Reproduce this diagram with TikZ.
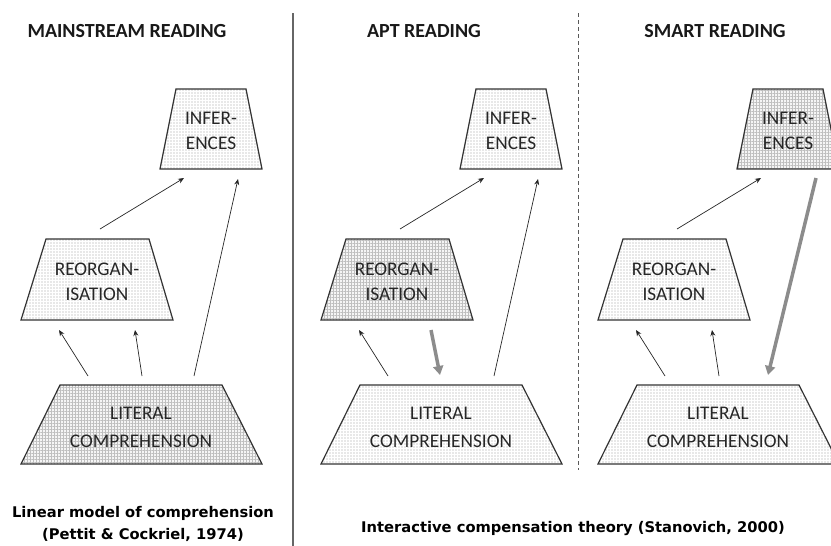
\documentclass[tikz,border=0pt]{standalone}
\usepackage{fontspec}
\setmainfont{Carlito}
\newfontfamily\capfont{DejaVu Sans}
\usetikzlibrary{patterns.meta,arrows.meta}
\definecolor{boxline}{HTML}{333333}
\definecolor{thickgray}{HTML}{8C8C8C}
\tikzset{
  dotfill/.style={draw=boxline, line width=1.2pt, preaction={fill=white},
    pattern={Dots[distance=3pt, radius=0.55pt]}, pattern color=gray!75},
  gridfill/.style={draw=boxline, line width=1.2pt, preaction={fill=gray!8},
    pattern={Hatch[angle=0, distance=3pt, line width=0.35pt]}, pattern color=gray!50},
  boxtext/.style={font=\fontsize{19.3}{25}\selectfont, align=center, text=black!85, inner sep=0pt},
  title/.style={font=\bfseries\fontsize{20}{22}\selectfont, text=black!90, inner sep=0pt},
  captext/.style={font=\capfont\bfseries\fontsize{14.7}{22}\selectfont, align=center, inner sep=0pt},
  thinarrow/.style={-{Stealth[length=6pt,width=5pt]}, line width=0.7pt, draw=black!85},
  fatarrow/.style={-{Triangle[length=9pt,width=10pt]}, line width=3.5pt, draw=thickgray},
}
\begin{document}
\begin{tikzpicture}[x=1pt,y=-1pt]
\useasboundingbox (0,0) rectangle (831,546);
% separators
\draw[line width=1.8pt, draw=gray!80!black] (293,13) -- (293,546);
\draw[line width=0.8pt, draw=gray!70!black, dash pattern=on 4pt off 3pt] (578,13) -- (578,470);
% titles
\node[title] (t1) at (127,31) {MAINSTREAM READING};
\node[title] (t2) at (424,31) {APT READING};
\node[title] (t3) at (715,31) {SMART READING};
% panels
\foreach \ox/\pn/\sfi/\sfr/\sfl in {0/a/dotfill/dotfill/gridfill, 300/b/dotfill/gridfill/dotfill, 577/c/gridfill/dotfill/dotfill}{
  \begin{scope}[xshift=\ox]
    \path[\sfi] (176,89) -- (246,89) -- (262,169) -- (160,169) -- cycle;
    \node[boxtext] (inf\pn) at (211,131) {INFER-\\ENCES};
    \path[\sfr] (46,239) -- (149,239) -- (173,320) -- (21,320) -- cycle;
    \node[boxtext] (reo\pn) at (97,282) {REORGAN-\\ISATION};
    \path[\sfl] (60,385) -- (222,385) -- (262,464) -- (21,464) -- cycle;
    \node[boxtext, font=\fontsize{19.3}{28}\selectfont] (lit\pn) at (141,427) {LITERAL\\COMPREHENSION};
    \coordinate (l1\pn) at (88,376);
    \coordinate (r1\pn) at (59,330);
    \coordinate (l2\pn) at (142,376);
    \coordinate (r2\pn) at (135,330);
    \coordinate (l3\pn) at (194,376);
    \coordinate (i3\pn) at (238,179);
    \coordinate (r4\pn) at (100,229);
    \coordinate (i4\pn) at (184,178);
  \end{scope}
}
% mainstream arrows
\draw[thinarrow] (l1a) -- (r1a);
\draw[thinarrow] (l2a) -- (r2a);
\draw[thinarrow] (l3a) -- (i3a);
\draw[thinarrow] (r4a) -- (i4a);
% apt arrows
\draw[thinarrow] (l1b) -- (r1b);
\draw[thinarrow] (l3b) -- (i3b);
\draw[thinarrow] (r4b) -- (i4b);
\coordinate (fa1) at (431,330);
\coordinate (fa2) at (440,375);
\draw[fatarrow] (fa1) -- (fa2);
% smart arrows
\draw[thinarrow] (l1c) -- (r1c);
\draw[thinarrow] (l2c) -- (r2c);
\draw[thinarrow] (r4c) -- (i4c);
\coordinate (fb1) at (816,178);
\coordinate (fb2) at (768,375);
\draw[fatarrow] (fb1) -- (fb2);
% captions
\node[captext] (c1) at (143,524) {Linear model of comprehension\\(Pettit \& Cockriel, 1974)};
\node[captext] (c2) at (573,528) {Interactive compensation theory (Stanovich, 2000)};
\end{tikzpicture}
\end{document}
